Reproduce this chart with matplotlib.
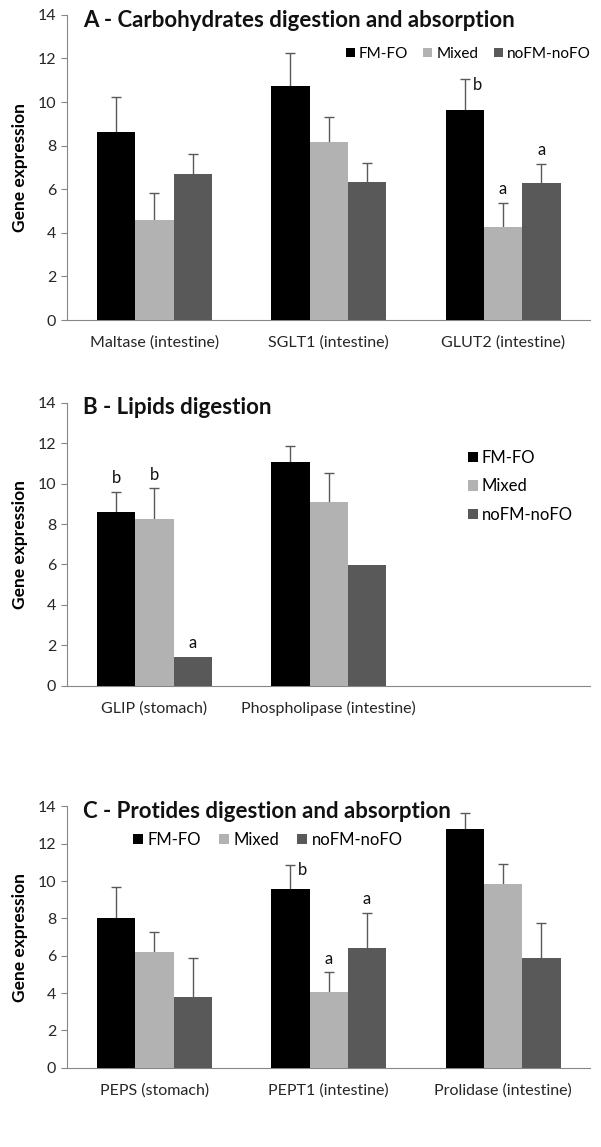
"""
Three stacked bar panels: gene expression of digestive enzymes / transporters
for the FM-FO, Mixed and noFM-noFO diets (mean + upper SE bar, letters).
"""
import numpy as np
import matplotlib
matplotlib.use("Agg")
import matplotlib.pyplot as plt
from matplotlib.patches import Patch

plt.rcParams["font.family"] = ["Lato", "DejaVu Sans"]

DIETS = ["FM-FO", "Mixed", "noFM-noFO"]
COLORS = ["#000000", "#b2b2b2", "#595959"]

# Panel A - carbohydrates
a_genes = ["Maltase (intestine)", "SGLT1 (intestine)", "GLUT2 (intestine)"]
a_fmfo = [8.65, 10.75, 9.62]
a_mixed = [4.61, 8.17, 4.29]
a_nofm = [6.72, 6.34, 6.30]
a_fmfo_err = [1.57, 1.49, 1.44]
a_mixed_err = [1.24, 1.15, 1.10]
a_nofm_err = [0.91, 0.88, 0.87]
# (gene index, diet index, letter, side)
a_letters = [(2, 0, "b", "right"), (2, 1, "a", "above"), (2, 2, "a", "above")]

# Panel B - lipids (third slot left empty, as in the original)
b_genes = ["GLIP (stomach)", "Phospholipase (intestine)", ""]
b_fmfo = [8.61, 11.06]
b_mixed = [8.24, 9.09]
b_nofm = [1.43, 5.99]
b_fmfo_err = [0.99, 0.79]
b_mixed_err = [1.52, 1.42]
b_nofm_err = [0.0, 0.0]
b_letters = [(0, 0, "b", "above"), (0, 1, "b", "above"), (0, 2, "a", "above")]

# Panel C - protides
c_genes = ["PEPS (stomach)", "PEPT1 (intestine)", "Prolidase (intestine)"]
c_fmfo = [8.02, 9.59, 12.80]
c_mixed = [6.19, 4.08, 9.83]
c_nofm = [3.82, 6.41, 5.89]
c_fmfo_err = [1.67, 1.28, 0.83]
c_mixed_err = [1.10, 1.04, 1.10]
c_nofm_err = [2.04, 1.89, 1.86]
c_letters = [(1, 0, "b", "right"), (1, 1, "a", "above"), (1, 2, "a", "above")]

BAR_W = 0.22
TXT = "#262626"


def draw_panel(ax, title, genes, series, errs, letters, legend_kw):
    x = np.arange(len(genes))
    for i, (vals, err, col) in enumerate(zip(series, errs, COLORS)):
        xs = np.arange(len(vals)) + (i - 1) * BAR_W
        vals = np.asarray(vals)
        err = np.asarray(err)
        ax.bar(xs, vals, width=BAR_W, color=col, label=DIETS[i], zorder=3)
        has = err > 0
        # symmetric bar drawn behind the columns -> only the "plus" half shows
        ax.errorbar(xs[has], vals[has], yerr=err[has],
                    fmt="none", ecolor="#595959", elinewidth=1.0,
                    capsize=3.5, capthick=1.0, zorder=2)
    for g, d, txt, side in letters:
        top = series[d][g] + errs[d][g]
        xc = g + (d - 1) * BAR_W
        if side == "right":
            ax.annotate(txt, (xc, top), xytext=(9, -4), textcoords="offset points",
                        ha="center", va="center", fontsize=12, color="#111111")
        else:
            ax.annotate(txt, (xc, top), xytext=(0, 4), textcoords="offset points",
                        ha="center", va="bottom", fontsize=12, color="#111111")

    ax.set_xlim(-0.5, len(genes) - 0.5)
    ax.set_ylim(0, 14)
    ax.set_yticks(range(0, 15, 2))
    ax.set_xticks(x)
    ax.set_xticklabels(genes, fontsize=11.5, color=TXT)
    ax.tick_params(axis="x", length=0, pad=11)
    ax.tick_params(axis="y", labelsize=11.5, colors=TXT, length=4,
                   color="#868686", pad=4)
    for s in ("top", "right"):
        ax.spines[s].set_visible(False)
    for s in ("left", "bottom"):
        ax.spines[s].set_color("#868686")
    ax.set_ylabel("Gene expression", fontsize=12.5, fontweight="bold", labelpad=7)
    ax.text(0.03, 0.982, title, transform=ax.transAxes, fontsize=16,
            fontweight="bold", va="center", ha="left", color="#111111")

    handles = [Patch(facecolor=c, label=d) for c, d in zip(COLORS, DIETS)]
    fs = legend_kw.pop("fontsize", 12)
    ax.legend(handles=handles, frameon=False, handlelength=0.6,
              handleheight=0.6, handletextpad=0.25, borderpad=0,
              fontsize=fs, **legend_kw)


fig = plt.figure(figsize=(6.01, 11.47), dpi=100)
ax_a = fig.add_axes([0.112, 0.721, 0.870, 0.266])
ax_b = fig.add_axes([0.112, 0.402, 0.870, 0.247])
ax_c = fig.add_axes([0.112, 0.069, 0.870, 0.228])

draw_panel(ax_a, "A - Carbohydrates digestion and absorption", a_genes,
           [a_fmfo, a_mixed, a_nofm], [a_fmfo_err, a_mixed_err, a_nofm_err],
           a_letters,
           dict(ncol=3, loc="center right", bbox_to_anchor=(1.015, 0.872),
                columnspacing=1.0, fontsize=11))
draw_panel(ax_b, "B - Lipids digestion", b_genes,
           [b_fmfo, b_mixed, b_nofm], [b_fmfo_err, b_mixed_err, b_nofm_err],
           b_letters,
           dict(ncol=1, loc="center left", bbox_to_anchor=(0.75, 0.705),
                labelspacing=0.75))
draw_panel(ax_c, "C - Protides digestion and absorption", c_genes,
           [c_fmfo, c_mixed, c_nofm], [c_fmfo_err, c_mixed_err, c_nofm_err],
           c_letters,
           dict(ncol=3, loc="center left", bbox_to_anchor=(0.11, 0.872),
                columnspacing=1.1))

fig.savefig("out.png", dpi=100)
